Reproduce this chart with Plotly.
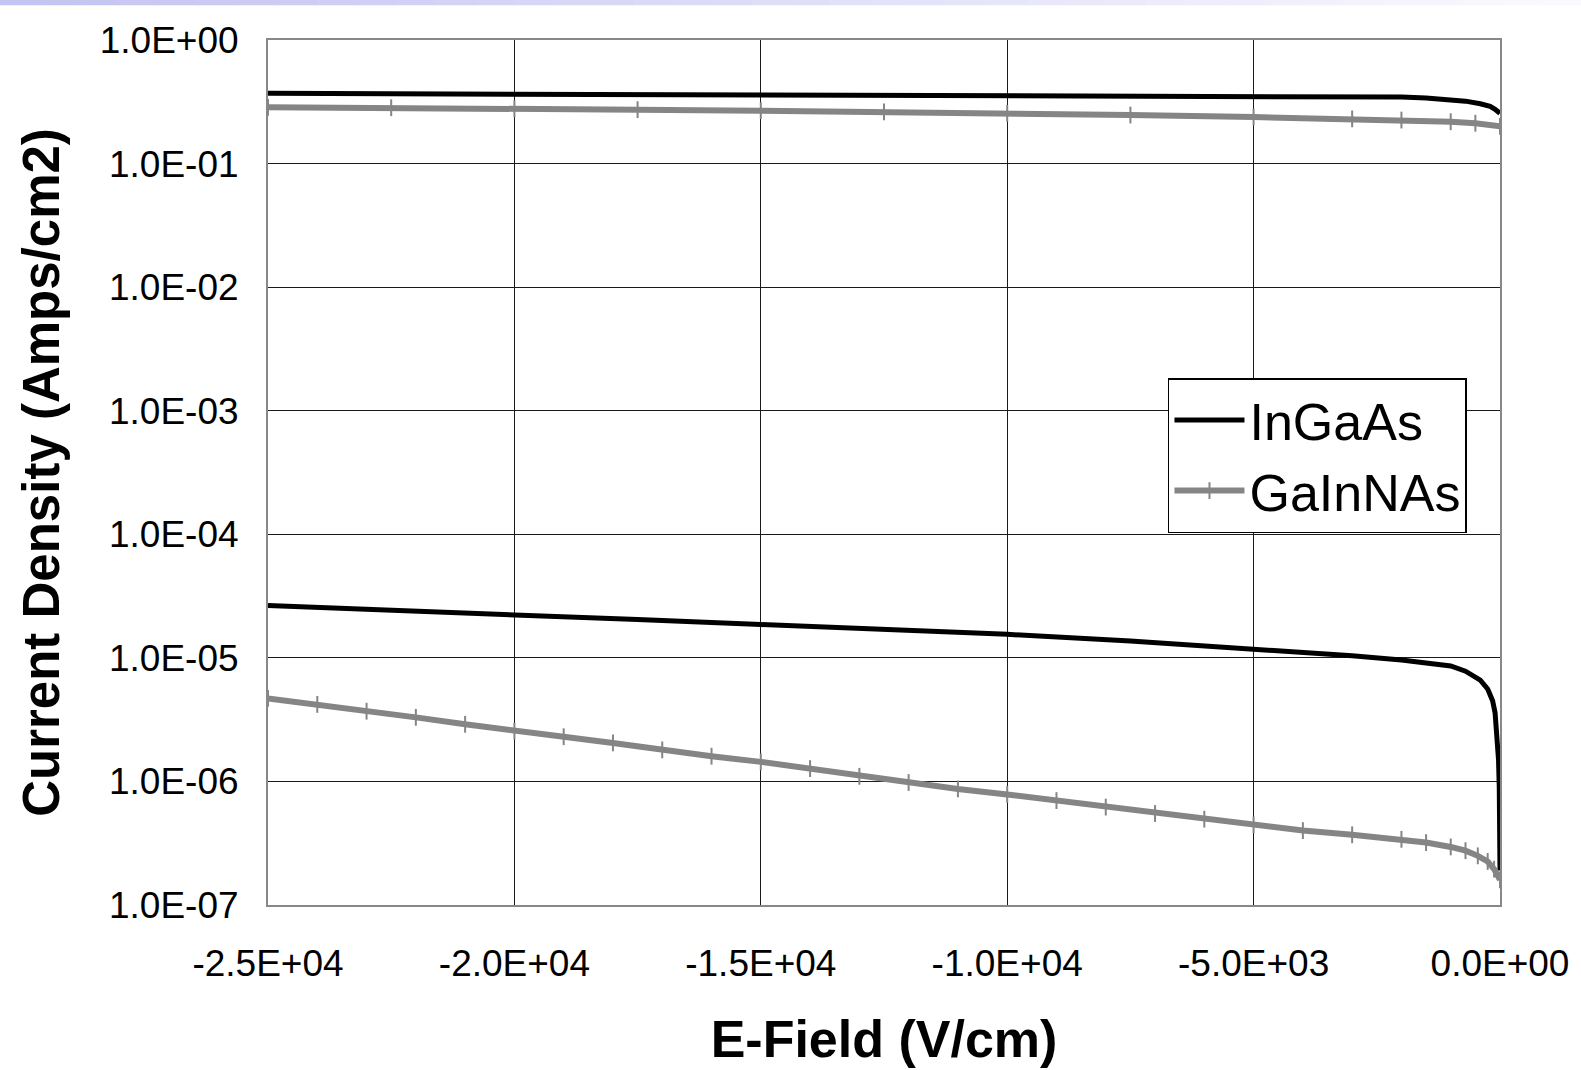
import plotly.graph_objects as go

# ---- data ----
ingaas_light_x = [-25000, -20000, -15000, -10000, -5000, -3000, -2000, -1500, -1000, -700, -400, -200, -100, 0]
ingaas_light_y = [0.37, 0.365, 0.36, 0.357, 0.355, 0.35, 0.345, 0.34, 0.33, 0.32, 0.305, 0.29, 0.275, 0.255]

ingaas_dark_x = [-25000, -22500, -20000, -17500, -15000, -12500, -10000, -7500, -5000, -3000, -2000,
                 -1000, -700, -400, -250, -150, -100, -60, -30, -15, -8, -3, 0]
ingaas_dark_y = [2.65e-5, 2.44e-5, 2.24e-5, 2.04e-5, 1.86e-5, 1.7e-5, 1.55e-5, 1.37e-5, 1.18e-5, 1.04e-5, 9.6e-6,
                 8.6e-6, 7.8e-6, 6.6e-6, 5.6e-6, 4.5e-6, 3.6e-6, 2.4e-6, 1.5e-6, 9e-7, 6e-7, 3e-7, 1.9e-7]

gainnas_light_x = [-25000, -22500, -20000, -17500, -15000, -12500, -10000, -7500, -5000, -3000, -2000, -1000, -500, 0]
gainnas_light_y = [0.285, 0.283, 0.278, 0.273, 0.268, 0.262, 0.255, 0.247, 0.238, 0.23, 0.225, 0.218, 0.212, 0.2]

gainnas_dark_x = [-25000, -24000, -23000, -22000, -21000, -20000, -19000, -18000, -17000, -16000, -15000,
                  -14000, -13000, -12000, -11000, -10000, -9000, -8000, -7000, -6000, -5000, -4000, -3000,
                  -2000, -1500, -1000, -700, -450, -250, -120, 0]
gainnas_dark_y = [4.7e-6, 4.2e-6, 3.7e-6, 3.3e-6, 2.9e-6, 2.55e-6, 2.3e-6, 2.05e-6, 1.8e-6, 1.6e-6, 1.44e-6,
                  1.27e-6, 1.1e-6, 9.8e-7, 8.7e-7, 7.85e-7, 7.0e-7, 6.2e-7, 5.5e-7, 4.95e-7, 4.45e-7, 4.0e-7, 3.7e-7,
                  3.4e-7, 3.2e-7, 2.95e-7, 2.75e-7, 2.5e-7, 2.25e-7, 1.95e-7, 1.6e-7]

x_tickvals = [-25000, -20000, -15000, -10000, -5000, 0]
x_ticktext = ["-2.5E+04", "-2.0E+04", "-1.5E+04", "-1.0E+04", "-5.0E+03", "0.0E+00"]
y_tickvals = [1, 1e-1, 1e-2, 1e-3, 1e-4, 1e-5, 1e-6, 1e-7]
y_ticktext = ["1.0E+00", "1.0E-01", "1.0E-02", "1.0E-03", "1.0E-04", "1.0E-05", "1.0E-06", "1.0E-07"]

BLACK = "#000000"
GRAY = "#858585"

fig = go.Figure()
fig.add_trace(go.Scatter(x=ingaas_light_x, y=ingaas_light_y, mode="lines", name="InGaAs",
                         legendgroup="ingaas", line=dict(color=BLACK, width=5)))
fig.add_trace(go.Scatter(x=ingaas_dark_x, y=ingaas_dark_y, mode="lines", name="InGaAs",
                         legendgroup="ingaas", showlegend=False, line=dict(color=BLACK, width=5)))
fig.add_trace(go.Scatter(x=gainnas_light_x, y=gainnas_light_y, mode="lines+markers", name="GaInNAs",
                         legendgroup="gainnas", line=dict(color=GRAY, width=6),
                         marker=dict(symbol="line-ns", size=12, line=dict(color=GRAY, width=2))))
fig.add_trace(go.Scatter(x=gainnas_dark_x, y=gainnas_dark_y, mode="lines+markers", name="GaInNAs",
                         legendgroup="gainnas", showlegend=False, line=dict(color=GRAY, width=6),
                         marker=dict(symbol="line-ns", size=12, line=dict(color=GRAY, width=2))))

# faint lavender band at the very top of the slide
n_band = 40
for i in range(n_band):
    t = i / (n_band - 1)
    r = int(196 + (250 - 196) * t)
    g = int(196 + (250 - 196) * t)
    b = int(242 + (254 - 242) * t)
    fig.add_shape(type="rect", xref="paper", yref="paper",
                  x0=-0.2176 + 1.2833 * i / n_band, x1=-0.2176 + 1.2833 * (i + 1) / n_band + 0.001,
                  y0=1.0403, y1=1.05, line=dict(width=0), fillcolor=f"rgb({r},{g},{b})", layer="below")

font_family = "Liberation Sans, Arial, sans-serif"

fig.update_layout(
    width=1581, height=1070,
    margin=dict(l=268, r=81, t=40, b=162.5),
    paper_bgcolor="white", plot_bgcolor="white",
    font=dict(family=font_family, color="black", size=37),
    showlegend=True,
    legend=dict(x=0.7305, y=0.609, xanchor="left", yanchor="top",
                bgcolor="white", bordercolor="black", borderwidth=1.5,
                font=dict(size=52, family=font_family), tracegroupgap=0,
                itemwidth=70),
    xaxis=dict(
        range=[-25000, 0], tickvals=x_tickvals, ticktext=x_ticktext,
        showgrid=True, gridcolor="#1a1a1a", gridwidth=1.2,
        showline=True, linecolor="#888888", linewidth=2, mirror=True,
        ticks="", ticklabelstandoff=25, zeroline=False,
        tickfont=dict(size=37),
        title=dict(text="<b>E-Field (V/cm)</b>", font=dict(size=52), standoff=37),
    ),
    yaxis=dict(
        type="log", range=[-7, 0], tickvals=y_tickvals, ticktext=y_ticktext,
        showgrid=True, gridcolor="#1a1a1a", gridwidth=1.2,
        showline=True, linecolor="#888888", linewidth=2, mirror=True,
        ticks="", ticklabelstandoff=20, zeroline=False,
        tickfont=dict(size=37),
        title=dict(text="<b>Current Density (Amps/cm2)</b>", font=dict(size=51), standoff=24),
    ),
)

fig.write_html("out.html")
